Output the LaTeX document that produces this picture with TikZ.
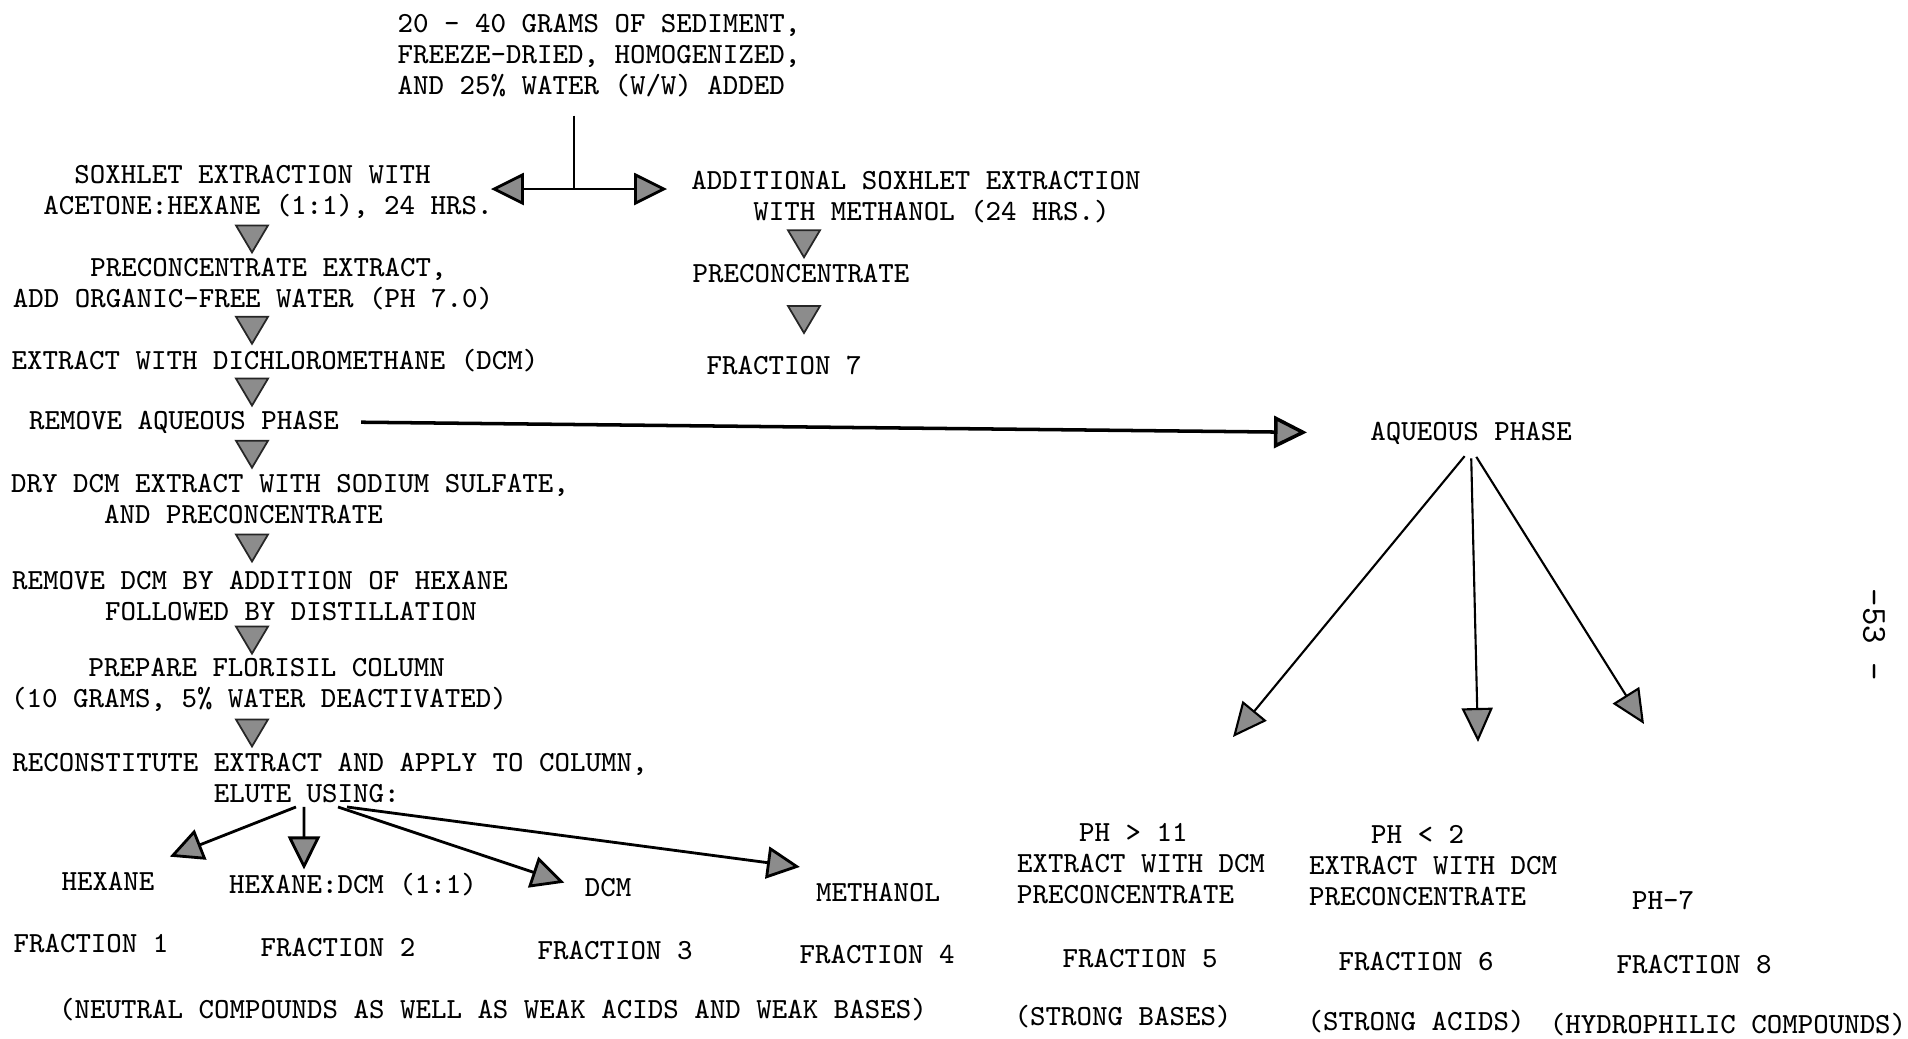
\documentclass[tikz,border=0pt]{standalone}
\usepackage{fontspec}
\usetikzlibrary{arrows.meta,calc}
% typewriter indent, n characters
\newcommand{\skipch}[1]{\hspace*{#1\fontdimen2\font}}

\begin{document}
\begin{tikzpicture}[x=0.01cm, y=-0.01cm,
  txt/.style={font=\ttfamily\fontsize{8.3}{8.8}\selectfont, inner sep=1pt, align=left},
  bigtip/.style={thick, -{Triangle[length=0.33cm, width=0.32cm, fill=gray!90]}},
  fantip/.style={semithick, -{Triangle[length=0.34cm, width=0.31cm, fill=gray!90]}},
  downtri/.pic={\filldraw[fill=gray!90, draw=black!85, line width=0.5pt] (-16,-13) -- (16,-13) -- (0,14) -- cycle;}]
\useasboundingbox (0,0) rectangle (1908,1038);
\coordinate (lspine) at (252,0);
\coordinate (rspine) at (804,0);
\coordinate (split) at (574,189);
% sample preparation
\node[txt] (sed) at (599,56) {20 - 40 GRAMS OF SEDIMENT,\\FREEZE-DRIED, HOMOGENIZED,\\AND 25\% WATER (W/W) ADDED};
% left branch
\node[txt] (soxA) at (268,192) {\skipch{2}SOXHLET EXTRACTION WITH\\ACETONE:HEXANE (1:1), 24 HRS.};
\node[txt] (pre1) at (253,284) {\skipch{5}PRECONCENTRATE EXTRACT,\\ADD ORGANIC-FREE WATER (PH 7.0)};
\node[txt] (dcm) at (275,361) {EXTRACT WITH DICHLOROMETHANE (DCM)};
\node[txt] (remA) at (184,422) {REMOVE AQUEOUS PHASE};
\node[txt] (dry) at (290,499) {DRY DCM EXTRACT WITH SODIUM SULFATE,\\\skipch{6}AND PRECONCENTRATE};
\node[txt] (remD) at (260,596) {REMOVE DCM BY ADDITION OF HEXANE\\\skipch{6}FOLLOWED BY DISTILLATION};
\node[txt] (flor) at (259,685) {\skipch{5}PREPARE FLORISIL COLUMN\\(10 GRAMS, 5\% WATER DEACTIVATED)};
\node[txt] (recon) at (330,778) {RECONSTITUTE EXTRACT AND APPLY TO COLUMN,\\\skipch{13}ELUTE USING:};
\node[txt] (hex) at (108,881) {HEXANE};
\node[txt] (hexdcm) at (353,885) {HEXANE:DCM (1:1)};
\node[txt] (dcmN) at (608,888) {DCM};
\node[txt] (meth) at (878,892) {METHANOL};
\node[txt] (f1) at (91,943) {FRACTION 1};
\node[txt] (f2) at (338,947) {FRACTION 2};
\node[txt] (f3) at (615,950) {FRACTION 3};
\node[txt] (f4) at (877,954) {FRACTION 4};
\node[txt] (neut) at (493,1010) {(NEUTRAL COMPOUNDS AS WELL AS WEAK ACIDS AND WEAK BASES)};
% methanol branch
\node[txt] (addS) at (916,197) {ADDITIONAL SOXHLET EXTRACTION\\\skipch{4}WITH METHANOL (24 HRS.)};
\node[txt] (preR) at (801,273) {PRECONCENTRATE};
\node[txt] (fr7) at (784,365) {FRACTION 7};
% aqueous phase
\node[txt] (aq) at (1471,433) {AQUEOUS PHASE};
\coordinate (fanA) at (1233,737);
\coordinate (fanB) at (1478,742);
\coordinate (fanC) at (1644,724);
\node[txt] (ph11) at (1141,864) {\skipch{4}PH > 11\\EXTRACT WITH DCM\\PRECONCENTRATE};
\node[txt] (ph2) at (1433,866) {\skipch{4}PH < 2\\EXTRACT WITH DCM\\PRECONCENTRATE};
\node[txt] (ph7) at (1663,900) {PH-7};
\node[txt] (f5) at (1140,958) {FRACTION 5};
\node[txt] (f6) at (1416,961) {FRACTION 6};
\node[txt] (f8) at (1694,964) {FRACTION 8};
\node[txt] (sb) at (1123,1017) {(STRONG BASES)};
\node[txt] (sa) at (1416,1022) {(STRONG ACIDS)};
\node[txt] (hc) at (1728,1025) {(HYDROPHILIC COMPOUNDS)};
\node[txt, font=\ttfamily\fontsize{10}{12}\selectfont, rotate=-90] (pg) at (1874,635) {-53 -};
% connectors
\draw[semithick, shorten <=0.14cm] (sed.south -| split) -- (split);
\draw[bigtip, shorten >=-0.06cm] (split) -- (soxA.east |- split);
\draw[bigtip, shorten >=0.2cm] (split) -- (addS.west |- split);
\pic at ($(soxA.south -| lspine)!0.5!(pre1.north -| lspine)$) {downtri};
\pic at ($(pre1.south -| lspine)!0.5!(dcm.north -| lspine)$) {downtri};
\pic at ($(dcm.south -| lspine)!0.5!(remA.north -| lspine)$) {downtri};
\pic at ($(remA.south -| lspine)!0.5!(dry.north -| lspine)$) {downtri};
\pic at ($(dry.south -| lspine)!0.5!(remD.north -| lspine)$) {downtri};
\pic at ($(remD.south -| lspine)!0.5!(flor.north -| lspine)$) {downtri};
\pic at ($(flor.south -| lspine)!0.5!(recon.north -| lspine)$) {downtri};
\pic at ($(addS.south -| rspine)!0.5!(preR.north -| rspine)$) {downtri};
\pic at ($(preR.south -| rspine)!0.5!(fr7.north -| rspine)$) {downtri};
\path[bigtip] ([xshift=-0.34cm]recon.south) edge[shorten >=0.3cm] (hex);
\path[bigtip] ([xshift=-0.26cm]recon.south) edge ([xshift=-0.49cm]hexdcm.north);
\path[bigtip] ([xshift=0.08cm]recon.south) edge[shorten >=0.17cm] (dcmN.west);
\path[bigtip] ([xshift=0.17cm]recon.south) edge[shorten >=0.12cm] ([yshift=0.1cm]meth.north west);
\draw[bigtip, line width=1pt, shorten <=0.18cm, shorten >=0.59cm] (remA.east) -- (aq.west);
\path[fantip, shorten <=0.1cm] (aq.south) edge (fanA);
\path[fantip, shorten <=0.1cm] (aq.south) edge (fanB);
\path[fantip, shorten <=0.1cm] (aq.south) edge (fanC);
\end{tikzpicture}
\end{document}
